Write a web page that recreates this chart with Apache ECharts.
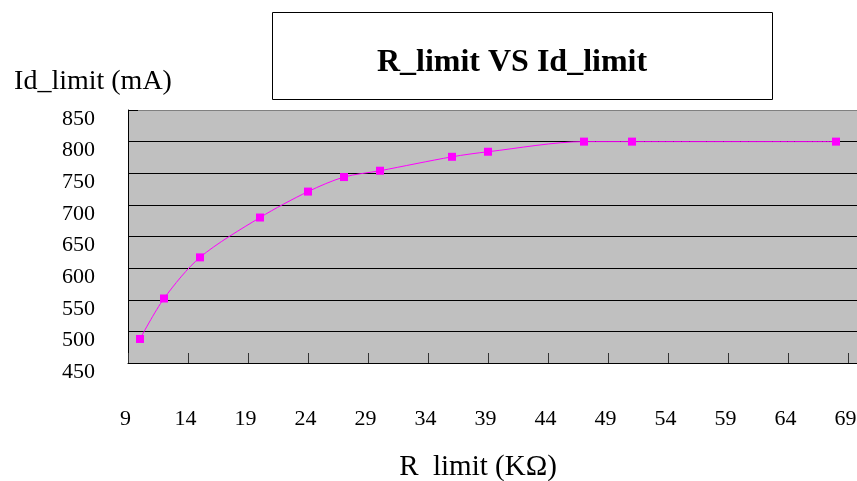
<!DOCTYPE html>
<html>
<head>
<meta charset="utf-8">
<script src="https://cdn.jsdelivr.net/npm/echarts@6/dist/echarts.min.js"></script>
<style>
  html, body { margin: 0; padding: 0; background: #ffffff; }
  #chart { width: 857px; height: 481px; }
</style>
</head>
<body>
<div id="chart"></div>
<script>
// Data
const rLimit = [10, 12, 15, 20, 24, 27, 30, 36, 39, 47, 51, 68];        // kΩ
const idLimit = [488, 552, 617, 680, 721, 744, 754, 776, 784, 800, 800, 800]; // mA
const titleText = 'R_limit VS Id_limit';
const xAxisTitle = 'R  limit (K\u03A9)';
const yAxisTitle = 'Id_limit (mA)';

const FONT = "'Liberation Serif', 'Times New Roman', serif";
const points = rLimit.map((x, i) => [x, idLimit[i]]);

const chart = echarts.init(document.getElementById('chart'), null, { renderer: 'canvas' });
chart.setOption({
  backgroundColor: '#ffffff',
  animation: false,
  title: {
    text: titleText,
    left: 507,
    top: 42,
    textAlign: 'center',
    textStyle: { fontFamily: FONT, fontWeight: 'bold', fontSize: 32, color: '#000' }
  },
  graphic: [{
    type: 'rect',
    z: -1,
    shape: { x: 272.5, y: 12.5, width: 500, height: 87 },
    style: { fill: '#ffffff', stroke: '#000000', lineWidth: 1 }
  }],
  grid: {
    left: 128, width: 744, top: 110, height: 253,
    outerBoundsMode: 'none',
    containLabel: false,
    show: true, backgroundColor: '#C0C0C0', borderWidth: 0
  },
  xAxis: {
    type: 'value',
    min: 9, max: 71, interval: 5,
    name: xAxisTitle,
    nameLocation: 'middle',
    nameGap: 90,
    nameTextStyle: { fontFamily: FONT, fontSize: 29, color: '#000', padding: [0, 44, 0, 0] },
    axisLine: { show: true, lineStyle: { color: '#000', width: 1 } },
    axisTick: { show: true, inside: true, length: 10, lineStyle: { color: '#333' } },
    splitLine: { show: false },
    axisLabel: {
      fontFamily: FONT, fontSize: 22, color: '#000', margin: 45,
      showMaxLabel: false, padding: [0, 5, 0, 0]
    }
  },
  yAxis: {
    type: 'value',
    min: 450, max: 850, interval: 50,
    name: yAxisTitle,
    nameLocation: 'end',
    nameGap: 14,
    nameTextStyle: { fontFamily: FONT, fontSize: 28, color: '#000', align: 'center', padding: [0, 70, 0, 0] },
    axisLine: { show: true, lineStyle: { color: '#000', width: 1 } },
    axisTick: { show: true, inside: true, length: 10, lineStyle: { color: '#000' } },
    splitLine: {
      show: true,
      lineStyle: {
        color: ['#000', '#000', '#000', '#000', '#000', '#000', '#000', '#000', '#808080'],
        width: 1
      }
    },
    axisLabel: {
      fontFamily: FONT, fontSize: 22, color: '#000', margin: 33,
      verticalAlign: 'top', lineHeight: 18
    }
  },
  series: [{
    type: 'line',
    data: points,
    smooth: 0.3,
    symbol: 'rect',
    symbolSize: 8,
    lineStyle: { color: '#FF00FF', width: 1 },
    itemStyle: { color: '#FF00FF' },
    clip: false
  }]
});
</script>
</body>
</html>
